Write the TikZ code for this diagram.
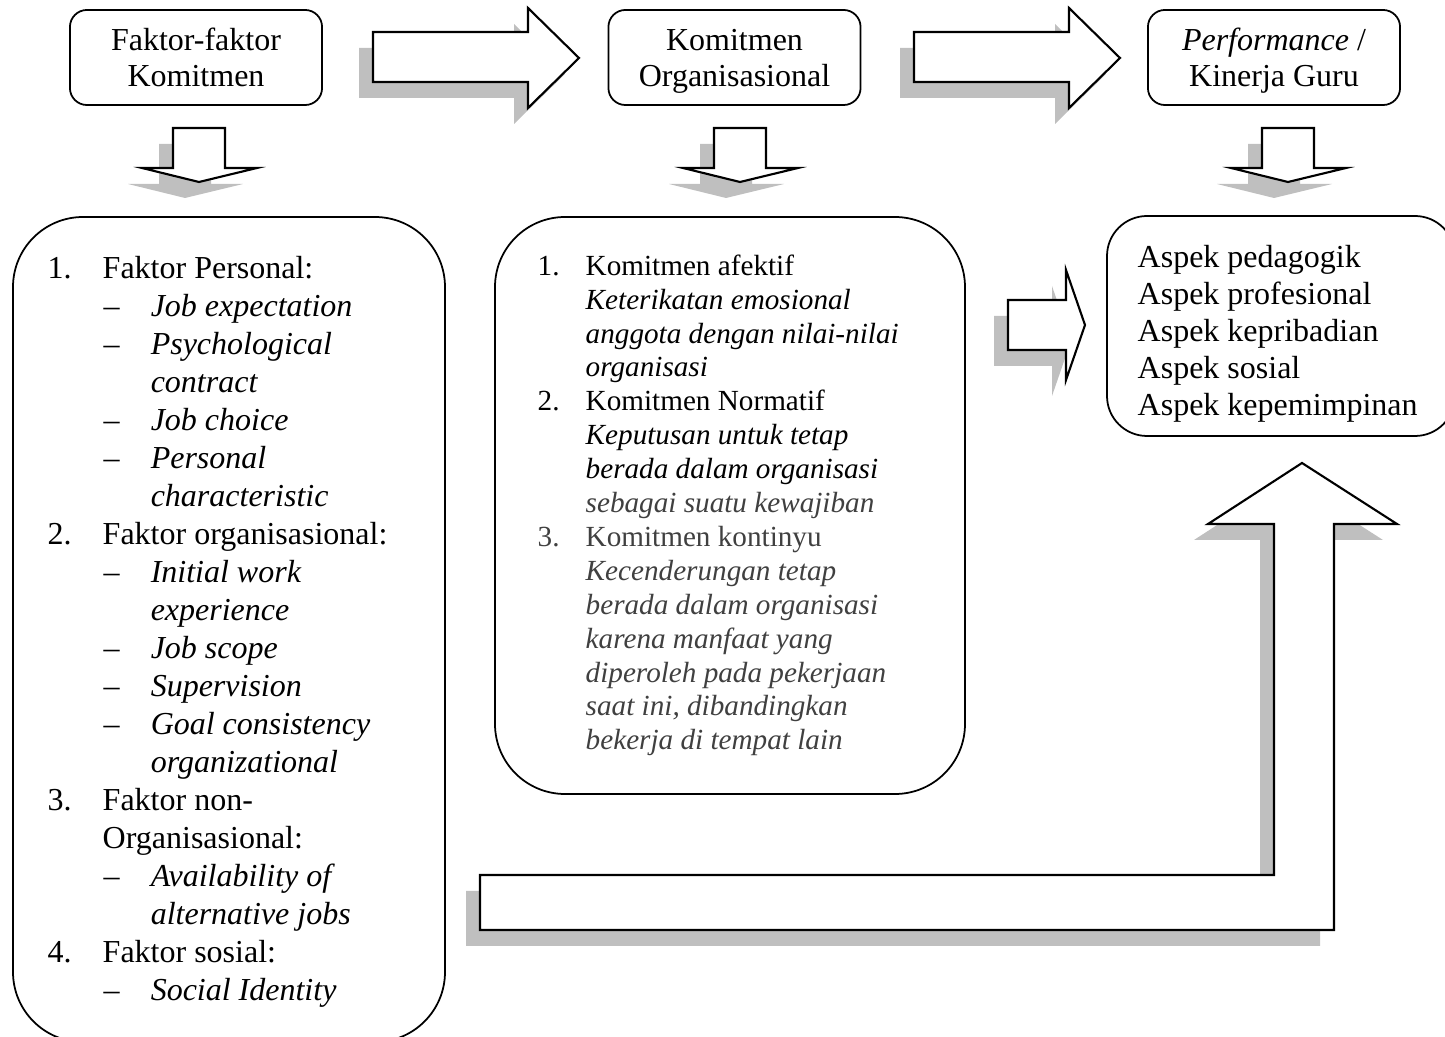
\documentclass[tikz,border=0pt]{standalone}
\usepackage{fontspec}
\setmainfont{Liberation Serif}
% list helpers
\newcommand{\lnum}[1]{\makebox[0.55cm][l]{#1}}
\newcommand{\ldash}{\hspace*{0.56cm}\makebox[0.47cm][l]{\textendash}}
\newcommand{\lcont}{\hspace*{1.03cm}}
\newcommand{\mnum}[1]{\makebox[0.48cm][l]{#1}}
\newcommand{\mcont}{\hspace*{0.48cm}}
\newcommand{\tstrut}{\rule[-2pt]{0pt}{10.2pt}}
% block arrow paths
\newcommand{\rightarr}[1]{(#1,32) -- ++(155,0) -- ++(0,-24) -- ++(51,50) -- ++(-51,50) -- ++(0,-26) -- ++(-155,0) -- cycle}
\newcommand{\downarr}[1]{(#1-26,128) -- ++(52,0) -- ++(0,40) -- ++(32,0) -- ++(-58,14) -- ++(-57,-14) -- ++(31,0) -- cycle}
\newcommand{\smallarr}{(1008,300) -- (1066,300) -- (1066,270) -- (1085,325) -- (1066,380) -- (1066,350) -- (1008,350) -- cycle}
\newcommand{\bentarr}{(480,875) -- (1274,875) -- (1274,524) -- (1208,524) -- (1302,463) -- (1397,524) -- (1334,524) -- (1334,930) -- (480,930) -- cycle}
\begin{document}
\begin{tikzpicture}[x=0.01cm,y=-0.01cm,line join=miter,
  topbox/.style={draw,line width=0.5pt,rounded corners=0.17cm,minimum width=2.52cm,minimum height=0.95cm,align=center,inner sep=0,font=\fontsize{9.1}{10.2}\selectfont},
  bigbox/.style={draw,line width=0.5pt},
  blockarr/.style={draw,fill=white,line width=0.6pt},
  arrshade/.style={fill=black!25,draw=none,shift={(-14,16)}},
  list/.style={anchor=north west,align=left,inner sep=0}]
\useasboundingbox (0,0) rectangle (1445,1037);

% shadows
\fill[arrshade] \rightarr{373};
\fill[arrshade] \rightarr{914};
\fill[arrshade] \downarr{199};
\fill[arrshade] \downarr{740};
\fill[arrshade] \downarr{1288};
\fill[arrshade] \smallarr;
\fill[arrshade] \bentarr;

% block arrows
\draw[blockarr] \rightarr{373};
\draw[blockarr] \rightarr{914};
\draw[blockarr] \downarr{199};
\draw[blockarr] \downarr{740};
\draw[blockarr] \downarr{1288};
\draw[blockarr] \smallarr;
\draw[blockarr] \bentarr;

% top boxes
\node[topbox] (faktor) at (196,57.5) {\tstrut Faktor-faktor\\\tstrut Komitmen};
\node[topbox] (komitmen) at (734.5,57.5) {\tstrut Komitmen\\\tstrut Organisasional};
\node[topbox] (kinerja) at (1274,57.5) {\tstrut\textit{Performance} /\\\tstrut Kinerja Guru};

% big boxes
\draw[bigbox,rounded corners=0.7cm] (13,217) rectangle (445,1042);
\draw[bigbox,rounded corners=0.7cm] (495,217) rectangle (965,794);
\draw[bigbox,rounded corners=0.4cm] (1107,216) rectangle (1455,436);

\node[list,font=\fontsize{9.1}{10.8}\selectfont] (faktorlist) at (47,256) {%
\lnum{1.}Faktor Personal:\\
\ldash\textit{Job expectation}\\
\ldash\textit{Psychological}\\
\lcont\textit{contract}\\
\ldash\textit{Job choice}\\
\ldash\textit{Personal}\\
\lcont\textit{characteristic}\\
\lnum{2.}Faktor organisasional:\\
\ldash\textit{Initial work}\\
\lcont\textit{experience}\\
\ldash\textit{Job scope}\\
\ldash\textit{Supervision}\\
\ldash\textit{Goal consistency}\\
\lcont\textit{organizational}\\
\lnum{3.}Faktor non-\\
\hspace*{0.55cm}Organisasional:\\
\ldash\textit{Availability of}\\
\lcont\textit{alternative jobs}\\
\lnum{4.}Faktor sosial:\\
\ldash\textit{Social Identity}};

\node[list,font=\fontsize{8.3}{9.64}\selectfont] (komitlist) at (537,254) {%
\mnum{1.}Komitmen afektif\\
\mcont\textit{Keterikatan emosional}\\
\mcont\textit{anggota dengan nilai-nilai}\\
\mcont\textit{organisasi}\\
\mnum{2.}Komitmen Normatif\\
\mcont\textit{Keputusan untuk tetap}\\
\mcont\textit{berada dalam organisasi}\\
\color{black!75}\mcont\textit{sebagai suatu kewajiban}\\
\color{black!75}\mnum{3.}Komitmen kontinyu\\
\color{black!75}\mcont\textit{Kecenderungan tetap}\\
\color{black!75}\mcont\textit{berada dalam organisasi}\\
\color{black!75}\mcont\textit{karena manfaat yang}\\
\color{black!75}\mcont\textit{diperoleh pada pekerjaan}\\
\color{black!75}\mcont\textit{saat ini, dibandingkan}\\
\color{black!75}\mcont\textit{bekerja di tempat lain}};

\node[list,font=\fontsize{9.1}{10.5}\selectfont] (aspeklist) at (1137,245) {%
Aspek pedagogik\\
Aspek profesional\\
Aspek kepribadian\\
Aspek sosial\\
Aspek kepemimpinan};
\end{tikzpicture}
\end{document}
